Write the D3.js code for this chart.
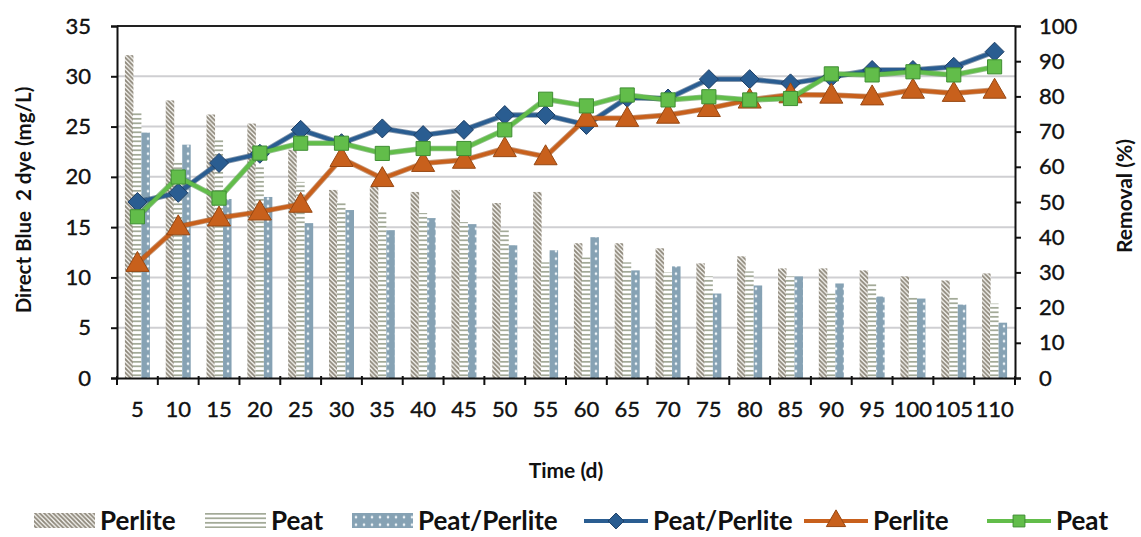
<!DOCTYPE html>
<html>
<head>
<meta charset="utf-8">
<script src="https://cdn.jsdelivr.net/npm/d3@7"></script>
<style>
  html, body { margin: 0; padding: 0; background: #fff; }
  svg { display: block; font-family: Lato, "Open Sans", sans-serif; }
</style>
</head>
<body>
<svg id="chart" width="1141" height="537"></svg>
<script>
// Sampling days
const days = [5, 10, 15, 20, 25, 30, 35, 40, 45, 50, 55, 60, 65, 70, 75, 80, 85, 90, 95, 100, 105, 110];

// Effluent dye concentration (mg/L), left axis
const perliteConc = [32.1, 27.6, 26.2, 25.3, 22.7, 18.7, 19.0, 18.5, 18.7, 17.4, 18.5, 13.4, 13.4, 12.9, 11.4, 12.1, 10.9, 10.9, 10.7, 10.1, 9.7, 10.4];
const peatConc    = [26.5, 21.5, 23.7, 21.0, 19.5, 17.5, 16.5, 16.4, 15.5, 14.7, 11.5, 12.0, 11.5, 10.5, 10.1, 10.6, 10.1, 8.4, 9.4, 8.1, 8.1, 7.4];
const blendConc   = [24.4, 23.2, 17.8, 18.0, 15.4, 16.7, 14.7, 15.9, 15.3, 13.2, 12.7, 14.0, 10.7, 11.1, 8.4, 9.2, 10.1, 9.4, 8.1, 7.9, 7.3, 5.5];

// Dye removal (%), right axis
const blendRemoval   = [50.0, 52.6, 61.1, 63.7, 70.5, 66.7, 70.9, 69.0, 70.5, 74.7, 74.7, 71.9, 79.6, 79.4, 84.9, 84.9, 83.7, 85.5, 87.5, 87.5, 88.4, 92.7];
const perliteRemoval = [32.6, 43.0, 45.5, 47.2, 49.4, 62.4, 56.7, 61.0, 61.9, 65.2, 62.9, 73.8, 73.8, 74.7, 76.6, 79.0, 80.5, 80.4, 79.9, 81.8, 80.9, 81.8];
const peatRemoval    = [45.8, 57.1, 51.1, 63.9, 66.7, 66.7, 63.8, 65.2, 65.2, 70.5, 79.2, 77.3, 80.4, 79.0, 79.9, 79.0, 79.4, 86.4, 86.1, 87.0, 86.1, 88.4];

// Axis ticks
const leftTicks  = [0, 5, 10, 15, 20, 25, 30, 35];
const rightTicks = [0, 10, 20, 30, 40, 50, 60, 70, 80, 90, 100];

// Series names
const barNames  = ["Perlite", "Peat", "Peat/Perlite"];
const lineNames = ["Peat/Perlite", "Perlite", "Peat"];

const svg = d3.select("#chart");
const plotLeft = 117, plotRight = 1015, plotTop = 26, plotBottom = 378;

const x = d3.scaleBand().domain(days).range([plotLeft, plotRight]).padding(0);
const yL = d3.scaleLinear().domain([0, 35]).range([plotBottom, plotTop]);
const yR = d3.scaleLinear().domain([0, 100]).range([plotBottom, plotTop]);

// ---- fill patterns ----
const defs = svg.append("defs");
const pHatch = defs.append("pattern").attr("id", "hatch")
  .attr("patternUnits", "userSpaceOnUse").attr("width", 4.5).attr("height", 4.5);
pHatch.append("rect").attr("width", 4.5).attr("height", 4.5).attr("fill", "#fbfaf6");
pHatch.append("path").attr("d", "M-1,-1 L5.5,5.5 M-1,3.5 L1,5.5 M3.5,-1 L5.5,1")
  .attr("stroke", "#8e887b").attr("stroke-width", 1.8);

const pLines = defs.append("pattern").attr("id", "hlines")
  .attr("patternUnits", "userSpaceOnUse").attr("width", 6).attr("height", 4.5);
pLines.append("rect").attr("width", 6).attr("height", 4.5).attr("fill", "#fff");
pLines.append("rect").attr("y", 1).attr("width", 6).attr("height", 1.6).attr("fill", "#98a08c");

const pDots = defs.append("pattern").attr("id", "dots")
  .attr("patternUnits", "userSpaceOnUse").attr("width", 8).attr("height", 7.5);
pDots.append("rect").attr("width", 8).attr("height", 7.5).attr("fill", "#86a2b4");
pDots.append("circle").attr("cx", 4).attr("cy", 3.75).attr("r", 1.3).attr("fill", "#eef4f8");

const barFills = ["url(#hatch)", "url(#hlines)", "url(#dots)"];

// ---- gridlines ----
svg.append("g").selectAll("line").data(leftTicks.filter(t => t > 0 && t < 35)).join("line")
  .attr("x1", plotLeft).attr("x2", plotRight)
  .attr("y1", d => yL(d)).attr("y2", d => yL(d))
  .attr("stroke", "#cfcfd2").attr("stroke-width", 2);

// ---- bars ----
const barSeries = [perliteConc, peatConc, blendConc];
const barW = 8.5;
const barOffset = [-12.5, -4.5, 4];
barSeries.forEach((vals, i) => {
  svg.append("g").selectAll("rect").data(vals).join("rect")
    .attr("x", (d, j) => x(days[j]) + x.bandwidth() / 2 + barOffset[i])
    .attr("width", barW)
    .attr("y", d => yL(d))
    .attr("height", d => yL(0) - yL(d))
    .attr("fill", barFills[i]);
});

// ---- lines ----
const lineSeries = [blendRemoval, perliteRemoval, peatRemoval];
const lineColors = ["#2a5d91", "#c8601c", "#62bd4a"];
const lineEdges  = ["#1d3f66", "#974813", "#3f8e33"];
const markerShapes = [d3.symbolDiamond2, d3.symbolTriangle, d3.symbolSquare];
const markerSizes = [230, 230, 200];

const line = d3.line()
  .x((d, j) => x(days[j]) + x.bandwidth() / 2)
  .y(d => yR(d));

lineSeries.forEach((vals, i) => {
  const g = svg.append("g");
  g.append("path").datum(vals).attr("d", line)
    .attr("fill", "none").attr("stroke", lineEdges[i]).attr("stroke-width", 5.5)
    .attr("stroke-linejoin", "round").attr("opacity", 0.55);
  g.append("path").datum(vals).attr("d", line)
    .attr("fill", "none").attr("stroke", lineColors[i]).attr("stroke-width", 3.8)
    .attr("stroke-linejoin", "round");
  g.selectAll("path.m").data(vals).join("path").attr("class", "m")
    .attr("transform", (d, j) => `translate(${x(days[j]) + x.bandwidth() / 2},${yR(d) + (i === 1 ? 1.5 : 0)})`)
    .attr("d", d3.symbol().type(markerShapes[i]).size(markerSizes[i]))
    .attr("fill", lineColors[i]).attr("stroke", lineEdges[i]).attr("stroke-width", 1);
});

// ---- frame & axes ----
svg.append("line").attr("x1", plotLeft).attr("x2", plotRight).attr("y1", plotTop).attr("y2", plotTop)
  .attr("stroke", "#222").attr("stroke-width", 2);

const axisStyle = g => {
  g.select(".domain").attr("stroke", "#111").attr("stroke-width", 2);
  g.selectAll(".tick line").attr("stroke", "#111").attr("stroke-width", 2);
  g.selectAll("text").attr("fill", "#111").attr("stroke", "#111").attr("stroke-width", 0.4)
    .style("font-size", "22px").style("font-family", "Lato, sans-serif");
};

svg.append("g").attr("transform", `translate(${plotLeft},0)`)
  .call(d3.axisLeft(yL).tickValues(leftTicks).tickSize(6).tickPadding(20).tickSizeOuter(6))
  .call(axisStyle);

svg.append("g").attr("transform", `translate(${plotRight},0)`)
  .call(d3.axisRight(yR).tickValues(rightTicks).tickSize(6).tickPadding(18).tickSizeOuter(6))
  .call(axisStyle);

const xAxis = svg.append("g").attr("transform", `translate(0,${plotBottom})`)
  .call(d3.axisBottom(x).tickSize(0).tickPadding(23).tickSizeOuter(0))
  .call(axisStyle);
// tick marks at the category boundaries
const lastEdge = x(days[days.length - 1]) + x.bandwidth();
xAxis.selectAll("line.bnd").data(days.map(d => x(d)).concat([lastEdge])).join("line").attr("class", "bnd")
  .attr("x1", d => d).attr("x2", d => d)
  .attr("y1", -2).attr("y2", 7)
  .attr("stroke", "#111").attr("stroke-width", 2);

// ---- axis titles ----
svg.append("text").attr("transform", "translate(31,200) rotate(-90)")
  .attr("text-anchor", "middle").style("white-space", "pre")
  .style("font-size", "20.5px").style("font-weight", "bold").attr("fill", "#111")
  .text("Direct Blue  2 dye (mg/L)");

svg.append("text").attr("transform", "translate(1132,196) rotate(-90)")
  .attr("text-anchor", "middle")
  .style("font-size", "21px").style("font-weight", "bold").attr("fill", "#111")
  .text("Removal (%)");

svg.append("text").attr("x", 566).attr("y", 478)
  .attr("text-anchor", "middle")
  .style("font-size", "21px").style("font-weight", "bold").attr("fill", "#111")
  .text("Time (d)");

// ---- legend ----
const legend = svg.append("g").attr("transform", "translate(0,521)");
const legItems = [
  { type: "bar", fill: barFills[0], name: barNames[0], x: 34 },
  { type: "bar", fill: barFills[1], name: barNames[1], x: 205 },
  { type: "bar", fill: barFills[2], name: barNames[2], x: 352 },
  { type: "line", k: 0, name: lineNames[0], x: 584 },
  { type: "line", k: 1, name: lineNames[1], x: 804 },
  { type: "line", k: 2, name: lineNames[2], x: 987 }
];
legItems.forEach(it => {
  const g = legend.append("g").attr("transform", `translate(${it.x},0)`);
  if (it.type === "bar") {
    g.append("rect").attr("x", 0).attr("y", -8).attr("width", 61).attr("height", 15).attr("fill", it.fill);
  } else {
    g.append("line").attr("x1", 0).attr("x2", 64).attr("y1", 0).attr("y2", 0)
      .attr("stroke", lineColors[it.k]).attr("stroke-width", 4);
    g.append("path").attr("transform", "translate(32,0)")
      .attr("d", d3.symbol().type(markerShapes[it.k]).size(markerSizes[it.k] * 0.7))
      .attr("fill", lineColors[it.k]).attr("stroke", lineEdges[it.k]).attr("stroke-width", 1);
  }
  g.append("text").attr("x", it.type === "bar" ? 66 : 69).attr("y", 0).attr("dy", "0.35em")
    .style("font-size", "26px").style("font-weight", "bold").attr("fill", "#111")
    .text(it.name);
});
</script>
</body>
</html>
